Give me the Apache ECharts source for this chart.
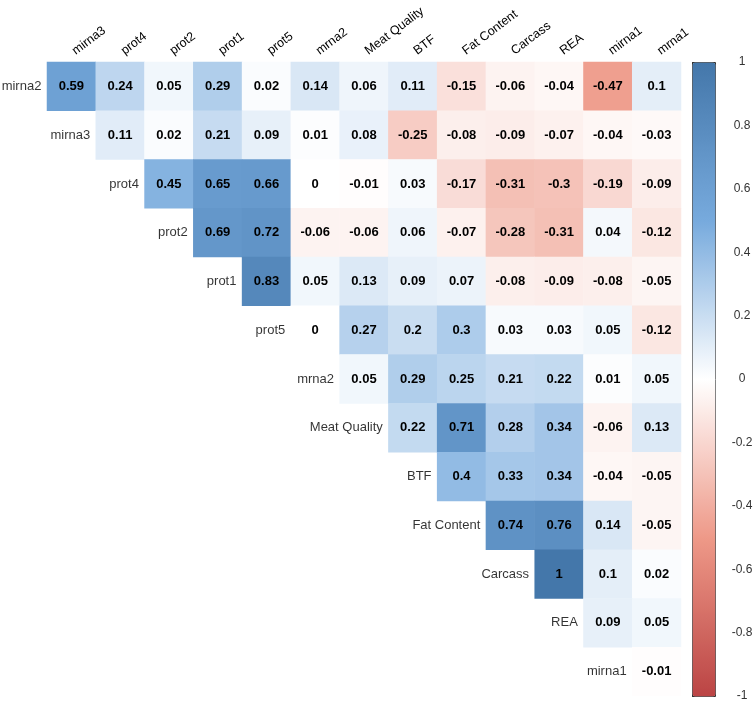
<!DOCTYPE html>
<html>
<head>
<meta charset="utf-8">
<script src="https://cdn.jsdelivr.net/npm/echarts@6/dist/echarts.min.js"></script>
<style>
    html, body { margin: 0; padding: 0; background: #fff; }
    #chart { width: 754px; height: 702px; }
</style>
</head>
<body>
<div id="chart"></div>
<script>
const rowNames = ['mirna2', 'mirna3', 'prot4', 'prot2', 'prot1', 'prot5', 'mrna2',
    'Meat Quality', 'BTF', 'Fat Content', 'Carcass', 'REA', 'mirna1'];
const colNames = ['mirna3', 'prot4', 'prot2', 'prot1', 'prot5', 'mrna2', 'Meat Quality',
    'BTF', 'Fat Content', 'Carcass', 'REA', 'mirna1', 'mrna1'];

// row i starts at column i (upper triangle, no diagonal)
const corrRows = [
    [0.59, 0.24, 0.05, 0.29, 0.02, 0.14, 0.06, 0.11, -0.15, -0.06, -0.04, -0.47, 0.1],
    [0.11, 0.02, 0.21, 0.09, 0.01, 0.08, -0.25, -0.08, -0.09, -0.07, -0.04, -0.03],
    [0.45, 0.65, 0.66, 0, -0.01, 0.03, -0.17, -0.31, -0.3, -0.19, -0.09],
    [0.69, 0.72, -0.06, -0.06, 0.06, -0.07, -0.28, -0.31, 0.04, -0.12],
    [0.83, 0.05, 0.13, 0.09, 0.07, -0.08, -0.09, -0.08, -0.05],
    [0, 0.27, 0.2, 0.3, 0.03, 0.03, 0.05, -0.12],
    [0.05, 0.29, 0.25, 0.21, 0.22, 0.01, 0.05],
    [0.22, 0.71, 0.28, 0.34, -0.06, 0.13],
    [0.4, 0.33, 0.34, -0.04, -0.05],
    [0.74, 0.76, 0.14, -0.05],
    [1, 0.1, 0.02],
    [0.09, 0.05],
    [-0.01]
];

const colorStops = ['#BB4444', '#EE9988', '#FFFFFF', '#77AADD', '#4477AA'];

const cells = [];
corrRows.forEach((row, i) => {
    row.forEach((v, k) => {
        cells.push([i + k, i, v]);
    });
});

const rowLabels = rowNames.map((name, i) => ({ value: [i, i], name: name }));

const chart = echarts.init(document.getElementById('chart'));

const option = {
    animation: false,
    textStyle: { fontFamily: 'Liberation Sans, Arial, sans-serif' },
    grid: [
        { left: 47, top: 62, width: 634, height: 634, outerBoundsMode: 'none' },
        { left: 692, top: 62, width: 23, height: 634, outerBoundsMode: 'none' }
    ],
    xAxis: [{
        type: 'category',
        gridIndex: 0,
        data: colNames,
        position: 'top',
        axisLine: { show: false },
        axisTick: { show: false },
        splitLine: { show: false },
        axisLabel: {
            rotate: -37,
            interval: 0,
            margin: 8,
            padding: [0, 0, 0, 3],
            fontSize: 12.5,
            color: '#000'
        }
    }, {
        type: 'value',
        gridIndex: 1,
        show: false
    }],
    yAxis: [{
        type: 'category',
        gridIndex: 0,
        data: rowNames,
        inverse: true,
        axisLine: { show: false },
        axisTick: { show: false },
        axisLabel: { show: false },
        splitLine: { show: false }
    }, {
        type: 'value',
        gridIndex: 1,
        min: -1,
        max: 1,
        interval: 0.2,
        position: 'right',
        axisLine: { show: false },
        splitLine: { show: false },
        axisTick: { show: true, length: 5, lineStyle: { color: '#333' } },
        axisLabel: {
            align: 'center',
            margin: 27,
            fontSize: 12,
            color: '#333',
            formatter: v => String(Math.round(v * 10) / 10)
        }
    }],
    visualMap: {
        type: 'continuous',
        min: -1,
        max: 1,
        seriesIndex: 0,
        calculable: false,
        showLabel: false,
        text: ['', ''],
        itemWidth: 23,
        itemHeight: 634,
        left: 692,
        top: 62,
        padding: 0,
        borderColor: '#333',
        borderWidth: 1,
        inRange: { color: colorStops }
    },
    series: [{
        type: 'heatmap',
        xAxisIndex: 0,
        yAxisIndex: 0,
        data: cells,
        itemStyle: { borderWidth: 0 },
        emphasis: { disabled: true },
        label: {
            show: true,
            fontSize: 13,
            fontWeight: 'bold',
            color: '#000',
            formatter: p => String(p.value[2])
        }
    }, {
        type: 'scatter',
        xAxisIndex: 0,
        yAxisIndex: 0,
        symbolSize: 0,
        data: rowLabels,
        silent: true,
        label: {
            show: true,
            position: 'left',
            distance: 30,
            fontSize: 13,
            color: '#000',
            formatter: p => p.name
        }
    }]
};

chart.setOption(option);
</script>
</body>
</html>
